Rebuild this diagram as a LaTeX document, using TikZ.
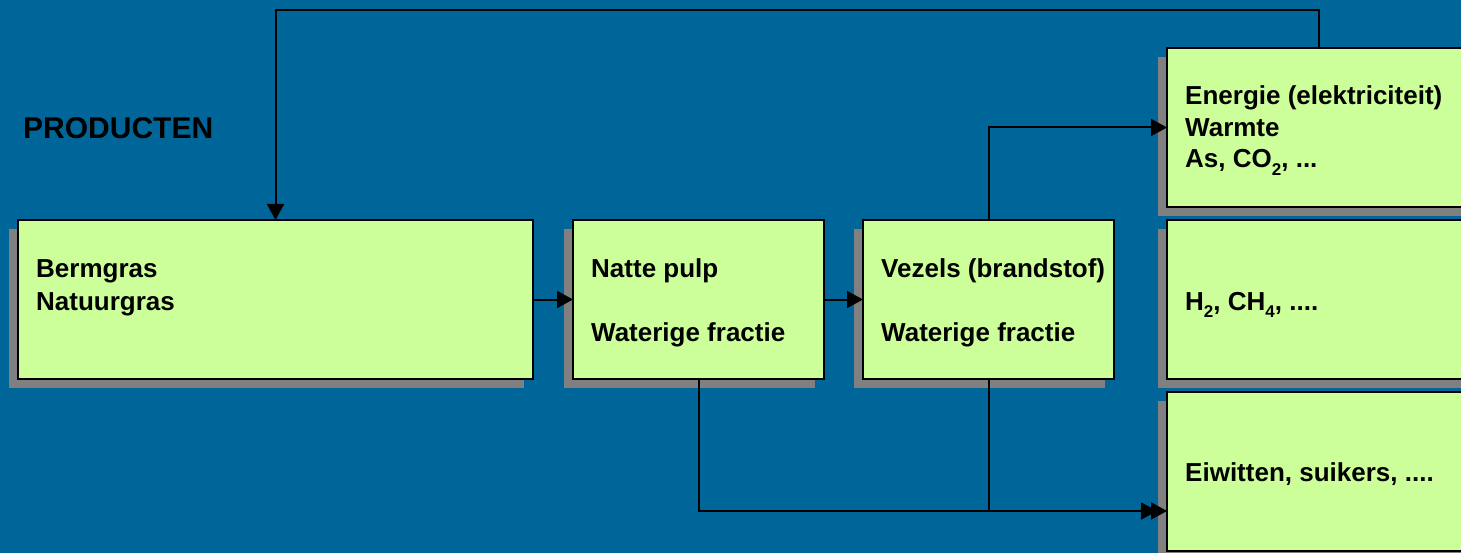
\documentclass[tikz,border=0pt]{standalone}
\usepackage{fontspec}
\setmainfont{Liberation Sans}
\usetikzlibrary{arrows.meta,shadows,positioning}
\definecolor{slidebg}{RGB}{0,102,153}
\definecolor{boxfill}{RGB}{204,255,153}
\definecolor{shadowgray}{RGB}{128,128,128}
\newcommand\lowix[1]{\raisebox{-0.28em}{\fontsize{17}{17}\selectfont #1}}
\tikzset{
  stage/.style={draw=black, line width=2pt, fill=boxfill, minimum height=159pt, inner sep=0pt, outer sep=0pt,
    drop shadow={shadow xshift=-9pt, shadow yshift=-9pt, fill=shadowgray, opacity=1}},
  lbl/.style={anchor=base west, inner sep=0pt, font=\fontsize{26}{31}\selectfont\bfseries},
  flow/.style={line width=2pt, -{Triangle[length=16pt,width=17pt]}}
}
\begin{document}
\begin{tikzpicture}[x=1pt,y=-1pt]
    \fill[slidebg] (0,0) rectangle (1461,553);
    \useasboundingbox (0,0) rectangle (1461,553);
    \clip (0,0) rectangle (1461,553);
    % boxes
    \node[stage, minimum width=515pt, anchor=north west] (b1) at (18,220) {};
    \node[stage, minimum width=251pt, right=40pt of b1] (b2) {};
    \node[stage, minimum width=251pt, right=39pt of b2] (b3) {};
    \node[stage, minimum width=304pt, right=53pt of b3] (e2) {};
    \node[stage, minimum width=304pt, above=13pt of e2] (e1) {};
    \node[stage, minimum width=304pt, below=13pt of e2] (e3) {};
    % texts
    \node[lbl, font=\fontsize{30}{36}\selectfont\bfseries] (prod) at (23,139) {PRODUCTEN};
    \node[lbl] (t1a) at (36,277) {Bermgras};
    \node[lbl] (t1b) at (36,310) {Natuurgras};
    \node[lbl] (t2a) at (591,277) {Natte pulp};
    \node[lbl] (t2b) at (591,341) {Waterige fractie};
    \node[lbl] (t3a) at (881,277) {Vezels (brandstof)};
    \node[lbl] (t3b) at (881,341) {Waterige fractie};
    \node[lbl] (e1a) at (1185,105) {Energie (elektriciteit)};
    \node[lbl] (e1b) at (1185,137) {Warmte};
    \node[lbl] (e1c) at (1185,168) {As, CO\lowix{2}, ...};
    \node[lbl] (e2a) at (1185,310) {H\lowix{2}, CH\lowix{4}, ....};
    \node[lbl] (e3a) at (1185,481) {Eiwitten, suikers, ....};
    % connectors
    \coordinate (sink) at (e3.west |- 0,511);
    \draw[flow] (b1) -- (b2);
    \draw[flow] (b2) -- (b3);
    \draw[flow] (b3.north) |- (e1.west);
    \draw[flow] (e1.north) -- ++(0,-38) -| (b1.north);
    \draw[flow] (b2.south) |- ([xshift=-10pt]sink);
    \draw[flow] (b3.south) |- (sink);
\end{tikzpicture}
\end{document}
